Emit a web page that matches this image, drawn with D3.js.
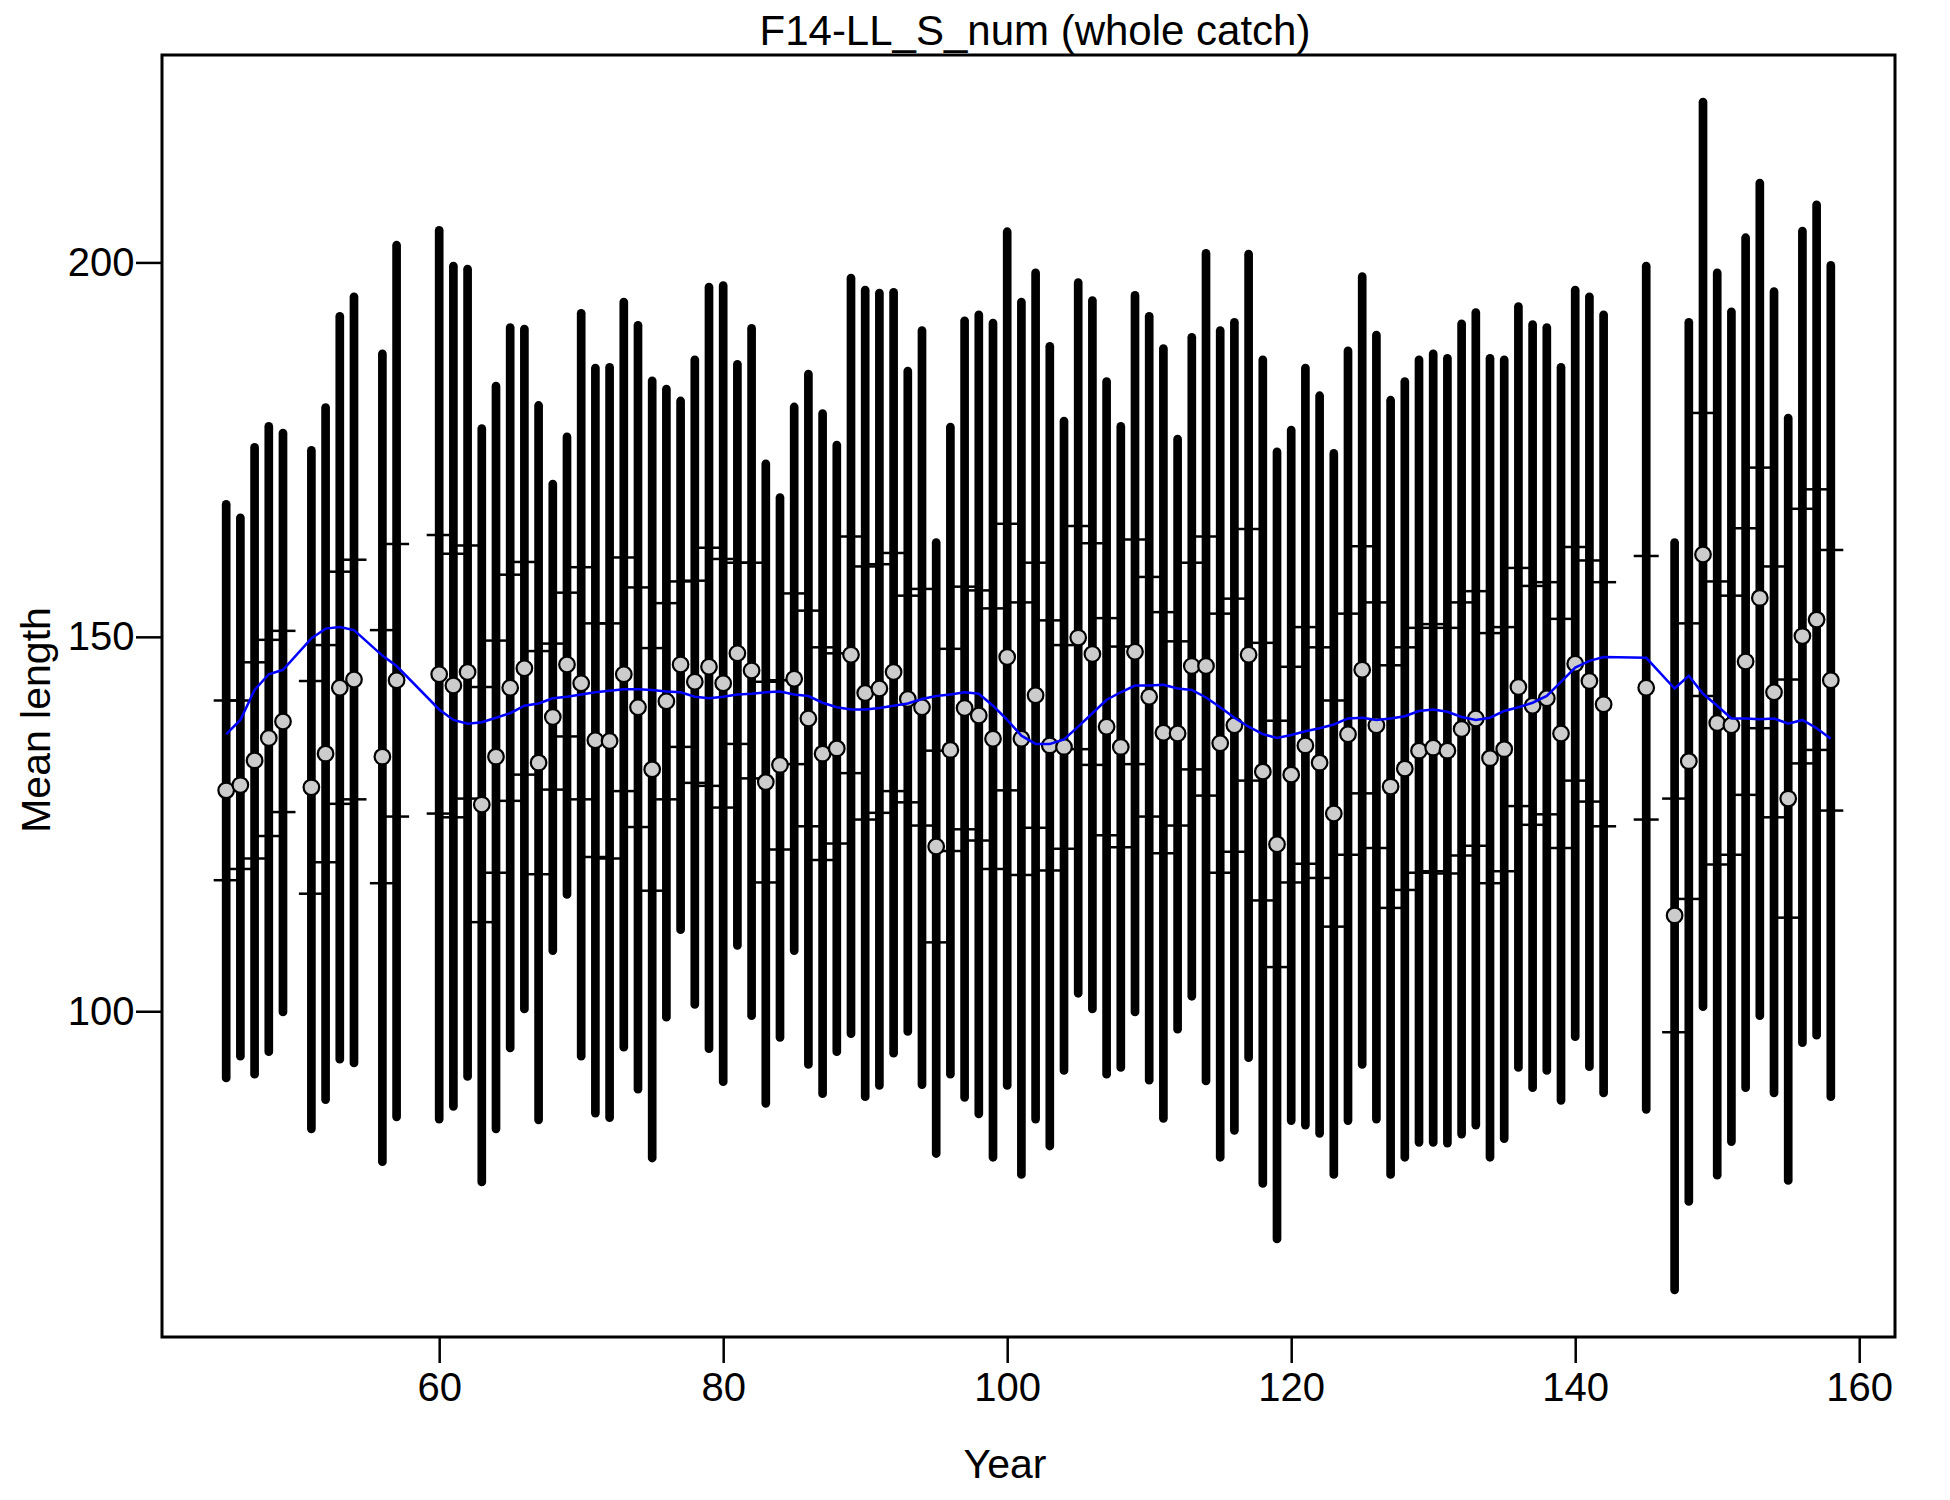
<!DOCTYPE html>
<html>
<head>
<meta charset="utf-8">
<script src="https://cdn.jsdelivr.net/npm/d3@7"></script>
<style>
  html, body { margin: 0; padding: 0; background: #ffffff; }
  svg { display: block; }
  text { font-family: "Liberation Sans", Arial, sans-serif; fill: #000; }
</style>
</head>
<body>
<script>
// ---------------- data ----------------
const chartTitle = "F14-LL_S_num (whole catch)";
const xLabel = "Year";
const yLabel = "Mean length";
const xTicks = [60, 80, 100, 120, 140, 160];
const yTicks = [100, 150, 200];

const years = [45,46,47,48,49,51,52,53,54,56,57,60,61,62,63,64,65,66,67,68,69,70,71,72,73,74,75,76,77,78,79,80,81,82,83,84,85,86,87,88,89,90,91,92,93,94,95,96,97,98,99,100,101,102,103,104,105,106,107,108,109,110,111,112,113,114,115,116,117,118,119,120,121,122,123,124,125,126,127,128,129,130,131,132,133,134,135,136,137,138,139,140,141,142,145,147,148,149,150,151,152,153,154,155,156,157,158];

// observed mean length (grey points)
const obsMean = [129.5,130.2,133.5,136.5,138.7,129.9,134.4,143.2,144.3,134.0,144.2,145.0,143.5,145.3,127.6,134.0,143.2,145.8,133.2,139.3,146.3,143.8,136.2,136.1,145.0,140.6,132.3,141.4,146.3,144.0,146.0,143.8,147.8,145.5,130.6,132.9,144.4,139.1,134.4,135.1,147.6,142.5,143.1,145.3,141.7,140.6,122.0,134.9,140.5,139.5,136.4,147.3,136.4,142.2,135.5,135.3,149.9,147.7,138.0,135.3,148.0,142.0,137.2,137.1,146.1,146.1,135.8,138.2,147.6,132.0,122.3,131.6,135.5,133.2,126.4,137.0,145.6,138.2,130.0,132.4,134.8,135.2,134.8,137.7,139.1,133.8,135.0,143.3,140.8,141.8,137.1,146.4,144.1,141.0,143.2,112.8,133.4,161.0,138.5,138.2,146.7,155.2,142.6,128.4,150.1,152.3,144.2];

// thick bars: lower and upper interval ends
const barLo = [91.1,94.0,91.6,94.6,99.9,84.3,88.2,93.6,93.1,79.9,85.9,85.6,87.3,91.3,77.2,84.3,95.1,100.3,85.5,108.1,115.6,94.0,86.4,85.8,95.2,89.6,80.4,99.2,110.9,100.9,95.0,90.6,108.8,99.4,87.7,96.5,108.1,92.9,89.0,94.6,97.0,88.6,90.1,94.4,97.3,90.2,81.0,91.6,88.5,86.3,80.5,90.1,78.2,85.6,82.0,92.1,102.4,100.3,91.6,92.5,99.9,90.8,85.7,97.6,102.0,90.7,80.5,84.1,93.8,77.0,69.6,85.4,84.8,83.7,78.2,85.4,92.9,85.6,78.2,80.5,82.5,82.5,82.4,83.6,84.8,80.5,83.0,92.5,89.8,92.1,88.1,96.6,92.6,89.1,86.9,62.8,74.6,100.6,78.1,82.6,89.8,99.4,89.1,77.4,95.8,96.8,88.6];
const barHi = [167.7,165.9,175.3,178.1,177.2,174.9,180.6,192.8,195.4,187.8,202.3,204.3,199.5,199.1,177.8,183.5,191.3,191.1,180.9,170.4,176.7,193.2,185.9,186.0,194.7,191.6,184.2,183.1,181.5,187.0,196.7,196.9,186.4,191.2,173.1,168.6,180.7,185.1,179.8,175.6,197.9,196.3,195.9,196.0,185.5,190.9,162.6,178.0,192.2,193.0,191.9,204.1,194.7,198.6,188.8,178.8,197.3,194.9,184.1,178.1,195.6,192.8,188.5,176.4,190.0,201.2,190.9,192.0,201.1,187.0,174.7,177.6,185.9,182.2,174.5,188.2,198.1,190.3,181.6,184.1,187.0,187.8,187.2,191.8,193.3,187.2,187.0,194.1,191.7,191.3,186.0,196.3,195.4,193.0,199.5,162.6,192.0,221.4,198.6,193.4,203.3,210.6,196.1,179.2,204.2,207.7,199.6];

// thin inner intervals (only their end caps are visible)
const capLo = [117.5,119.0,120.4,123.4,126.6,115.7,119.9,127.7,128.3,117.1,126.0,126.4,125.9,128.4,111.9,118.5,128.1,131.6,118.3,129.6,136.7,128.3,120.6,120.4,129.4,124.6,116.1,128.3,135.3,130.5,130.1,127.2,135.7,131.1,117.2,121.6,133.0,124.7,120.2,122.4,131.8,125.6,126.5,129.4,127.9,124.8,109.2,121.4,124.3,122.8,119.0,129.5,118.2,124.5,118.8,121.7,135.0,132.9,123.5,121.9,133.0,126.0,121.1,124.8,132.3,128.8,118.5,121.3,130.8,114.8,105.9,117.2,119.7,117.8,111.3,120.9,129.1,121.8,113.8,116.2,118.5,118.7,118.4,120.8,122.1,117.1,118.7,127.4,124.9,126.3,121.8,130.8,128.0,124.7,125.6,97.2,115.0,142.1,119.6,120.9,128.9,137.8,125.9,112.5,133.1,134.9,126.8];
const capHi = [141.5,141.5,146.6,149.6,150.8,144.1,148.9,158.7,160.3,150.9,162.4,163.6,161.1,162.2,143.3,149.5,158.3,160.0,148.1,149.1,155.9,159.3,151.8,151.8,160.6,156.6,148.5,154.5,157.4,157.5,161.9,160.4,159.9,159.9,144.0,144.2,155.8,153.5,148.6,147.8,163.4,159.4,159.7,161.2,155.5,156.4,134.8,148.4,156.7,156.2,153.8,165.1,154.6,159.9,152.2,148.9,164.8,162.5,152.5,148.7,163.0,158.0,153.3,149.4,159.9,163.4,153.1,155.1,164.4,149.2,138.8,146.0,151.3,148.6,141.5,153.1,162.1,154.6,146.2,148.6,151.2,151.7,151.2,154.6,156.1,150.5,151.3,159.2,156.8,157.3,152.4,162.0,160.2,157.3,160.8,128.4,151.8,179.9,157.4,155.5,164.5,172.6,159.4,144.3,167.1,169.7,161.6];

// expected mean length (blue line)
const expMean = [137.0,138.9,142.9,145.0,145.6,149.8,151.1,151.3,150.9,147.5,146.1,140.3,138.9,138.4,138.6,139.2,139.8,140.8,141.1,141.8,142.0,142.3,142.6,142.8,143.0,143.0,142.9,142.7,142.6,142.0,141.8,142.0,142.3,142.4,142.6,142.7,142.3,142.1,141.2,140.6,140.3,140.3,140.5,140.8,141.1,141.7,142.1,142.3,142.6,142.4,140.8,138.9,136.8,135.7,135.7,136.3,138.0,139.8,141.6,142.6,143.5,143.5,143.6,143.1,142.9,141.9,140.6,139.2,138.0,137.0,136.5,136.9,137.4,137.8,138.3,139.1,139.2,138.9,139.1,139.4,140.1,140.3,140.0,139.3,138.9,139.2,140.1,140.6,141.2,142.1,144.0,145.9,146.8,147.3,147.2,143.1,144.8,142.4,140.8,139.1,139.1,139.0,139.1,138.4,138.9,137.8,136.4];

// ---------------- layout ----------------
const W = 1950, H = 1500;
const plot = { left: 162, right: 1895, top: 55, bottom: 1337 };

const svg = d3.select("body").append("svg")
  .attr("width", W).attr("height", H)
  .attr("viewBox", `0 0 ${W} ${H}`);
svg.append("rect").attr("width", W).attr("height", H).attr("fill", "#ffffff");

const x = d3.scaleLinear().domain([40.48, 162.52]).range([plot.left, plot.right]);
const y = d3.scaleLinear().domain([56.5, 227.7]).range([plot.bottom, plot.top]);

const rows = years.map((yr, i) => ({
  yr, mean: obsMean[i], lo: barLo[i], hi: barHi[i], cLo: capLo[i], cHi: capHi[i], exp: expMean[i]
}));

// thick interval bars
svg.append("g").selectAll("line").data(rows).join("line")
  .attr("x1", d => x(d.yr)).attr("x2", d => x(d.yr))
  .attr("y1", d => y(d.lo)).attr("y2", d => y(d.hi))
  .attr("stroke", "#000").attr("stroke-width", 8.7).attr("stroke-linecap", "round");

// caps of inner intervals
const capHalf = 12.5;
const caps = svg.append("g");
caps.selectAll("line.lo").data(rows).join("line").attr("class", "lo")
  .attr("x1", d => x(d.yr) - capHalf).attr("x2", d => x(d.yr) + capHalf)
  .attr("y1", d => y(d.cLo)).attr("y2", d => y(d.cLo))
  .attr("stroke", "#000").attr("stroke-width", 2.5);
caps.selectAll("line.hi").data(rows).join("line").attr("class", "hi")
  .attr("x1", d => x(d.yr) - capHalf).attr("x2", d => x(d.yr) + capHalf)
  .attr("y1", d => y(d.cHi)).attr("y2", d => y(d.cHi))
  .attr("stroke", "#000").attr("stroke-width", 2.5);

// observed points
svg.append("g").selectAll("circle").data(rows).join("circle")
  .attr("cx", d => x(d.yr)).attr("cy", d => y(d.mean)).attr("r", 7.8)
  .attr("fill", "#cccccc").attr("stroke", "#000").attr("stroke-width", 2.2);

// expected line
svg.append("path").datum(rows)
  .attr("d", d3.line().x(d => x(d.yr)).y(d => y(d.exp)))
  .attr("fill", "none").attr("stroke", "#0000ff").attr("stroke-width", 2.5);

// box
svg.append("rect")
  .attr("x", plot.left).attr("y", plot.top)
  .attr("width", plot.right - plot.left).attr("height", plot.bottom - plot.top)
  .attr("fill", "none").attr("stroke", "#000").attr("stroke-width", 3);

// axes
const xAxis = svg.append("g").attr("transform", `translate(0,${plot.bottom})`)
  .call(d3.axisBottom(x).tickValues(xTicks).tickSize(26).tickPadding(10).tickFormat(d3.format("d")));
xAxis.select(".domain").remove();
xAxis.selectAll(".tick line").attr("stroke-width", 2.5);
xAxis.selectAll(".tick text").attr("font-size", 40).attr("font-family", "Liberation Sans, Arial, sans-serif");

const yAxis = svg.append("g").attr("transform", `translate(${plot.left},0)`)
  .call(d3.axisLeft(y).tickValues(yTicks).tickSize(26).tickPadding(1.5).tickFormat(d3.format("d")));
yAxis.select(".domain").remove();
yAxis.selectAll(".tick line").attr("stroke-width", 2.5);
yAxis.selectAll(".tick text").attr("font-size", 40).attr("font-family", "Liberation Sans, Arial, sans-serif");

// titles
svg.append("text").attr("x", 1035).attr("y", 45).attr("text-anchor", "middle")
  .attr("font-size", 42).text(chartTitle);
svg.append("text").attr("x", 1005).attr("y", 1478).attr("text-anchor", "middle")
  .attr("font-size", 41).text(xLabel);
svg.append("text").attr("transform", "translate(50,720) rotate(-90)").attr("text-anchor", "middle")
  .attr("font-size", 41).text(yLabel);
</script>
</body>
</html>
